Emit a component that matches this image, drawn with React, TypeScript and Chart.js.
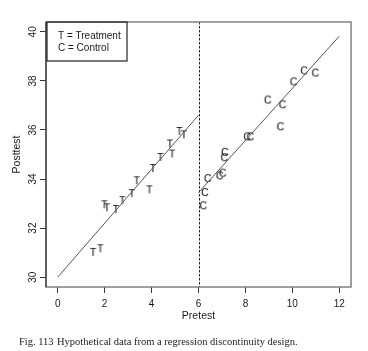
import React, { useEffect, useRef } from "react";
import { Chart, registerables } from "chart.js";

Chart.register(...registerables);

// ---- Data ----
const treatX = [1.51, 1.82, 1.99, 2.1, 2.48, 2.76, 3.16, 3.37, 3.91, 4.06, 4.38, 4.78, 4.88, 5.19, 5.38];
const treatY = [31.03, 31.18, 32.97, 32.85, 32.78, 33.14, 33.43, 33.95, 33.58, 34.45, 34.9, 35.45, 35.04, 35.96, 35.82];
const ctrlX = [6.2, 6.27, 6.39, 6.9, 7.03, 7.1, 7.12, 8.07, 8.21, 9.49, 8.95, 9.58, 10.05, 10.5, 10.98];
const ctrlY = [32.93, 33.47, 34.04, 34.15, 34.26, 34.89, 35.11, 35.74, 35.74, 36.15, 37.24, 37.05, 37.98, 38.43, 38.34];
const treatLineX = [0, 6];
const treatLineY = [30, 36.6];
const ctrlLineX = [6, 12];
const ctrlLineY = [33.45, 39.82];
const CUTOFF = 6;
const xTicks = [0, 2, 4, 6, 8, 10, 12];
const yTicks = [30, 32, 34, 36, 38, 40];
const legendLines = ["T = Treatment", "C = Control"];
const xTitle = "Pretest";
const yTitle = "Posttest";
const caption1 = "Fig. 113";
const caption2 = "Hypothetical data from a regression discontinuity design.";

const SANS = "'Liberation Sans', Arial, Helvetica, sans-serif";

function letterCanvas(ch: string): HTMLCanvasElement {
  const c = document.createElement("canvas");
  c.width = 14;
  c.height = 14;
  const ctx = c.getContext("2d")!;
  ctx.font = `10.5px ${SANS}`;
  ctx.fillStyle = "#000";
  ctx.textAlign = "center";
  ctx.textBaseline = "alphabetic";
  ctx.fillText(ch, 7, 7 + 3.8);
  return c;
}

const framePlugin = {
  id: "frameAndLegend",
  afterDatasetsDraw(chart: any) {
    const { ctx, chartArea, scales } = chart;
    const { left, right, top, bottom } = chartArea;
    ctx.save();
    // cutoff dashed line
    const cx = scales.x.getPixelForValue(CUTOFF);
    ctx.strokeStyle = "#222";
    ctx.lineWidth = 1;
    ctx.setLineDash([2.5, 1.5]);
    ctx.beginPath();
    ctx.moveTo(Math.round(cx) + 0.5, top);
    ctx.lineTo(Math.round(cx) + 0.5, bottom);
    ctx.stroke();
    ctx.setLineDash([]);
    // frame
    ctx.strokeStyle = "#808080";
    ctx.lineWidth = 1.5;
    ctx.strokeRect(left, top, right - left, bottom - top);
    ctx.strokeStyle = "#333";
    ctx.lineWidth = 1.2;
    ctx.beginPath();
    ctx.moveTo(left, top);
    ctx.lineTo(left, bottom);
    ctx.stroke();
    // legend
    ctx.fillStyle = "#fff";
    ctx.fillRect(left + 1, top + 1, 80, 38);
    ctx.strokeStyle = "#222";
    ctx.lineWidth = 1.2;
    ctx.strokeRect(left + 1, top, 80, 39);
    ctx.fillStyle = "#1a1a1a";
    ctx.font = `10px ${SANS}`;
    ctx.textAlign = "left";
    ctx.textBaseline = "middle";
    legendLines.forEach((t, i) => ctx.fillText(t, left + 12, top + 14.5 + i * 12.2));
    ctx.restore();
  },
};

export default function App() {
  const ref = useRef<HTMLCanvasElement>(null);
  useEffect(() => {
    document.body.style.margin = "0";
    const tStyle = letterCanvas("T");
    const cStyle = letterCanvas("C");
    const chart = new Chart(ref.current!, {
      type: "scatter",
      data: {
        datasets: [
          {
            type: "line",
            data: treatLineX.map((x, i) => ({ x, y: treatLineY[i] })),
            borderColor: "#555",
            borderWidth: 1,
            pointRadius: 0,
            fill: false,
          } as any,
          {
            type: "line",
            data: ctrlLineX.map((x, i) => ({ x, y: ctrlLineY[i] })),
            borderColor: "#555",
            borderWidth: 1,
            pointRadius: 0,
            fill: false,
          } as any,
          {
            data: treatX.map((x, i) => ({ x, y: treatY[i] })),
            pointStyle: tStyle as any,
            pointRadius: 5,
          },
          {
            data: ctrlX.map((x, i) => ({ x, y: ctrlY[i] })),
            pointStyle: cStyle as any,
            pointRadius: 5,
          },
        ],
      },
      options: {
        animation: false,
        responsive: false,
        events: [],
        layout: { padding: { left: 0, right: 17, top: 22, bottom: 29 } },
        plugins: { legend: { display: false }, tooltip: { enabled: false } },
        scales: {
          x: {
            type: "linear",
            min: -0.5,
            max: 12.5,
            afterBuildTicks: (s: any) => {
              s.ticks = xTicks.map((v) => ({ value: v }));
            },
            afterFit: (s: any) => {
              s.height = 35;
            },
            ticks: {
              font: { size: 10, family: SANS },
              color: "#1a1a1a",
              padding: 5,
              maxRotation: 0,
              autoSkip: false,
            },
            grid: { drawOnChartArea: false, drawTicks: true, tickLength: 6, color: "#333", lineWidth: 1 },
            border: { display: false },
            title: {
              display: true,
              text: xTitle,
              font: { size: 10.5, family: SANS },
              color: "#1a1a1a",
              padding: { top: 0, bottom: 0 },
            },
          },
          y: {
            type: "linear",
            min: 29.6,
            max: 40.4,
            afterBuildTicks: (s: any) => {
              s.ticks = yTicks.map((v) => ({ value: v }));
            },
            afterFit: (s: any) => {
              s.width = 46;
            },
            ticks: {
              font: { size: 10, family: SANS },
              color: "#1a1a1a",
              padding: 1,
              minRotation: 90,
              maxRotation: 90,
              crossAlign: "center",
              autoSkip: false,
            },
            grid: { drawOnChartArea: false, drawTicks: true, tickLength: 6, color: "#333", lineWidth: 1 },
            border: { display: false },
            title: {
              display: true,
              text: yTitle,
              font: { size: 10.5, family: SANS },
              color: "#1a1a1a",
              padding: { top: 11, bottom: 0 },
            },
          },
        },
      },
      plugins: [framePlugin],
    });
    return () => chart.destroy();
  }, []);
  const capStyle: React.CSSProperties = {
    position: "absolute",
    top: 336,
    font: "10.5px 'Liberation Serif', 'Times New Roman', serif",
    lineHeight: "12px",
    color: "#222",
    whiteSpace: "nowrap",
  };
  return (
    <div style={{ position: "relative", width: 368, height: 351, background: "#fff" }}>
      <canvas ref={ref} width={368} height={351} style={{ position: "absolute", left: 0, top: 0 }} />
      <div style={{ ...capStyle, left: 19 }}>{caption1}</div>
      <div style={{ ...capStyle, left: 57 }}>{caption2}</div>
    </div>
  );
}
